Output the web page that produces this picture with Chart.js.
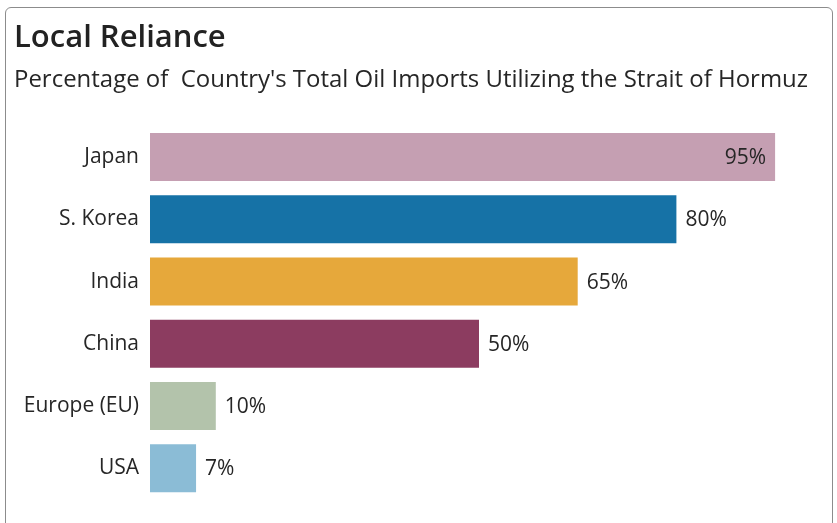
<!DOCTYPE html>
<html>
<head>
<meta charset="utf-8">
<script src="https://cdn.jsdelivr.net/npm/chart.js@4.4.1/dist/chart.umd.min.js"></script>
<style>
  html, body { margin: 0; padding: 0; background: #ffffff; }
  #wrap { position: relative; width: 837px; height: 523px; overflow: hidden; }
  #frame {
    position: absolute; left: 5px; top: 7px; width: 828px; height: 540px;
    border: 1.5px solid #8c8c8c; border-radius: 6px; box-sizing: border-box;
    pointer-events: none;
  }
  #chart { position: absolute; left: 0; top: 0; }
</style>
</head>
<body>
<div id="wrap">
  <div id="frame"></div>
  <canvas id="chart" width="837" height="523"></canvas>
</div>
<script>
// Share of each country's oil imports that pass through the Strait of Hormuz
const countries = ['Japan', 'S. Korea', 'India', 'China', 'Europe (EU)', 'USA'];
const sharePct = [95, 80, 65, 50, 10, 7];
const barColors = ['#c59fb2', '#1672a6', '#e6a83b', '#8c3c60', '#b3c3ab', '#8bbcd6'];

const FONT = '"Open Sans", "Noto Sans", sans-serif';
const TEXT = '#262626';

// Writes the percentage next to each bar, or just inside its end when there is no room
const valueLabels = {
  id: 'valueLabels',
  afterDatasetsDraw(chart) {
    const { ctx, chartArea } = chart;
    const meta = chart.getDatasetMeta(0);
    ctx.save();
    ctx.font = '21px ' + FONT;
    ctx.fillStyle = TEXT;
    ctx.textBaseline = 'middle';
    meta.data.forEach((bar, i) => {
      const txt = sharePct[i] + '%';
      const w = ctx.measureText(txt).width;
      const gap = 9;
      if (bar.x + gap + w > chartArea.right) {
        ctx.textAlign = 'right';
        ctx.fillText(txt, bar.x - gap, bar.y + 1);
      } else {
        ctx.textAlign = 'left';
        ctx.fillText(txt, bar.x + gap, bar.y + 1);
      }
    });
    ctx.restore();
  }
};

new Chart(document.getElementById('chart'), {
  type: 'bar',
  data: {
    labels: countries,
    datasets: [{
      data: sharePct,
      backgroundColor: barColors,
      borderWidth: 0,
      categoryPercentage: 1,
      barPercentage: 0.77
    }]
  },
  options: {
    indexAxis: 'y',
    responsive: false,
    animation: false,
    layout: { padding: { left: 14, right: 29, top: 0, bottom: 23 } },
    scales: {
      x: { display: false, min: 0, max: 100 },
      y: {
        grid: { display: false, drawTicks: false },
        border: { display: false },
        ticks: { color: TEXT, font: { family: FONT, size: 21 }, padding: 11 },
        afterFit(scale) { scale.width = 136; }
      }
    },
    plugins: {
      legend: { display: false },
      tooltip: { enabled: false },
      title: {
        display: true,
        text: 'Local Reliance',
        align: 'start',
        color: '#222222',
        font: { family: FONT, size: 31, weight: '600', lineHeight: 1.2 },
        padding: { top: 19.5, bottom: 0 }
      },
      subtitle: {
        display: true,
        text: "Percentage of  Country's Total Oil Imports Utilizing the Strait of Hormuz",
        align: 'start',
        color: TEXT,
        font: { family: FONT, size: 24, lineHeight: 1.2 },
        padding: { top: 9.4, bottom: 31 }
      }
    }
  },
  plugins: [valueLabels]
});
</script>
</body>
</html>
